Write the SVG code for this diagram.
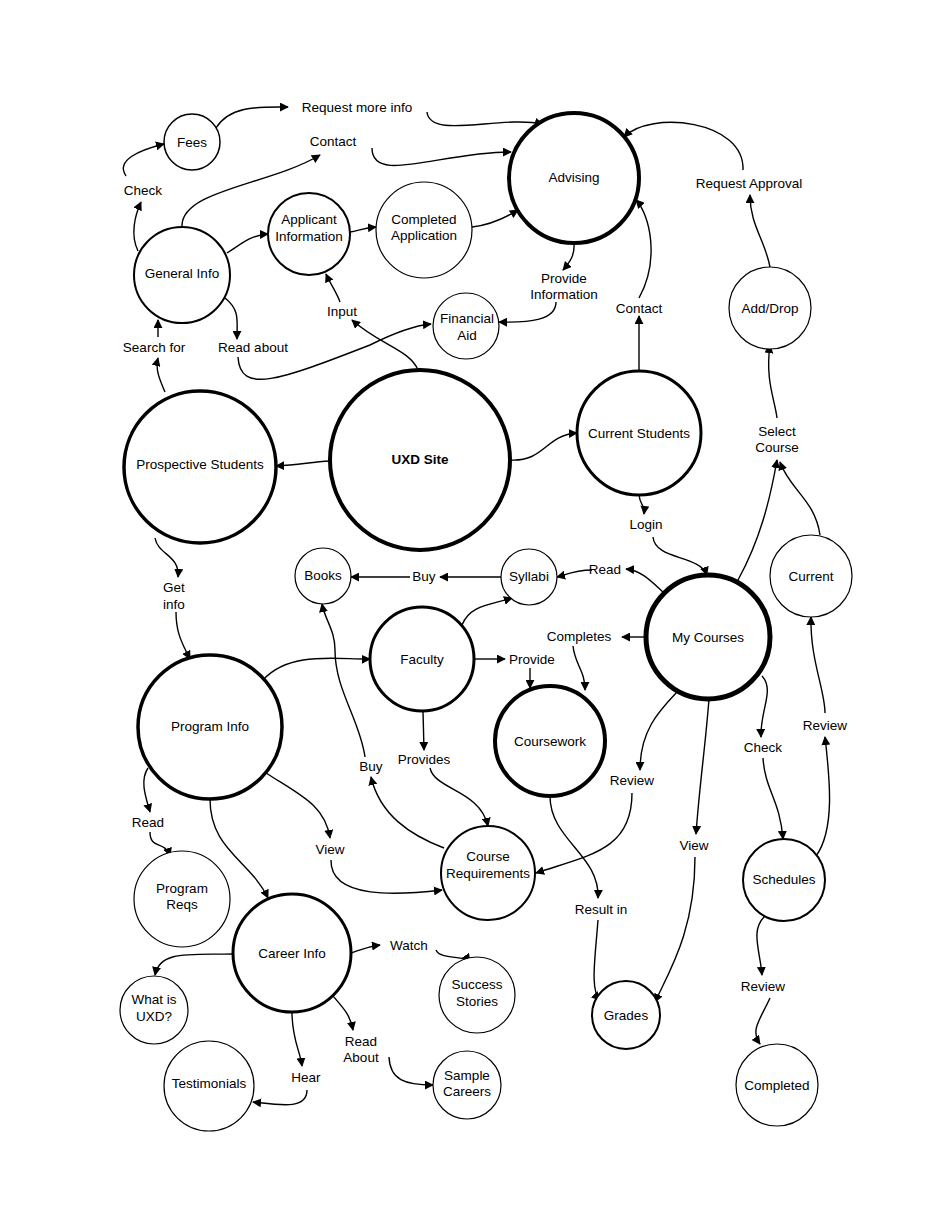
<svg xmlns="http://www.w3.org/2000/svg" width="935" height="1210" viewBox="0 0 935 1210">
<style>
.n{fill:#fff;stroke:#000}
.t{font-family:"Liberation Sans",Arial,sans-serif;font-size:13.5px;text-anchor:middle;fill:#000}
.b{font-weight:bold}
#edges path{fill:none;stroke:#000;stroke-width:1.4;marker-end:url(#a)}
</style>
<defs><marker id="a" viewBox="0 0 10 10" refX="9" refY="5" markerWidth="9" markerHeight="9" markerUnits="userSpaceOnUse" orient="auto"><path d="M0,0 L10,5 L0,10 z" fill="#000"/></marker></defs>
<rect width="935" height="1210" fill="#fff"/>
<g id="edges">
<path d="M216,128 C230,105 260,107 288,107"/>
<path d="M427,112 C430,140 500,115 543,124"/>
<path d="M126,176 C115,160 140,150 164,144"/>
<path d="M138,251 C130,235 135,215 141,202"/>
<path d="M182,227 C180,190 270,185 320,155"/>
<path d="M372,148 C372,185 440,152 511,152"/>
<path d="M227,253 C240,245 250,235 268,234"/>
<path d="M350,232 C360,230 365,228 376,227"/>
<path d="M472,227 C490,225 505,218 518,210"/>
<path d="M574,243 C575,255 570,262 563,270"/>
<path d="M556,302 C556,320 530,323 499,322"/>
<path d="M639,371 L639,316"/>
<path d="M639,298 C660,260 650,215 636,200"/>
<path d="M743,170 C745,120 650,110 624,137"/>
<path d="M770,267 C765,240 750,225 750,195"/>
<path d="M777,418 C775,400 765,380 770,345"/>
<path d="M738,580 C760,540 770,500 777,460"/>
<path d="M820,535 C815,500 790,490 780,462"/>
<path d="M165,392 C160,380 155,370 158,358"/>
<path d="M158,337 C158,330 158,330 158,320"/>
<path d="M225,298 C240,310 237,320 237,339"/>
<path d="M238,357 C240,395 280,380 370,345 C400,330 420,325 431,324"/>
<path d="M418,370 C410,350 380,345 352,320"/>
<path d="M340,302 C338,295 330,283 326,274"/>
<path d="M330,461 C310,462 300,465 276,466"/>
<path d="M510,460 C545,462 545,435 577,433"/>
<path d="M639,495 C640,505 645,505 644,514"/>
<path d="M653,537 C655,560 700,555 707,575"/>
<path d="M663,592 C650,580 640,570 626,569"/>
<path d="M592,570 C575,570 565,575 557,577"/>
<path d="M501,577 L440,577"/>
<path d="M410,577 L351,577"/>
<path d="M646,637 L622,637"/>
<path d="M573,646 C575,665 585,670 585,690"/>
<path d="M462,625 C470,605 490,605 512,598"/>
<path d="M474,659 L505,659"/>
<path d="M530,668 L530,688"/>
<path d="M155,538 C158,555 180,555 178,577"/>
<path d="M176,612 C176,630 180,640 190,659"/>
<path d="M263,680 C290,650 340,660 370,659"/>
<path d="M423,711 L424,750"/>
<path d="M430,768 C435,790 480,790 488,826"/>
<path d="M444,848 C410,835 380,815 371,777"/>
<path d="M365,757 C360,720 335,690 335,650 C335,630 325,620 322,604"/>
<path d="M677,692 C660,710 640,730 640,770"/>
<path d="M632,793 C632,850 590,855 536,873"/>
<path d="M709,699 C705,750 700,780 696,834"/>
<path d="M695,857 C695,930 670,970 655,1002"/>
<path d="M550,796 C550,840 600,855 598,898"/>
<path d="M598,920 C595,960 590,990 600,1000"/>
<path d="M762,676 C775,690 760,710 761,737"/>
<path d="M763,758 C765,790 780,800 783,839"/>
<path d="M816,856 C835,830 830,780 825,737"/>
<path d="M825,713 C825,690 810,660 811,617"/>
<path d="M765,916 C750,930 760,950 762,975"/>
<path d="M770,998 C760,1020 750,1030 760,1044"/>
<path d="M148,768 C140,780 145,795 150,812"/>
<path d="M150,832 C150,850 165,840 170,856"/>
<path d="M266,773 C300,795 325,805 330,838"/>
<path d="M331,860 C330,900 400,895 442,890"/>
<path d="M210,799 C210,850 250,860 268,898"/>
<path d="M233,954 C190,955 160,950 155,975"/>
<path d="M351,953 C360,950 365,947 380,945"/>
<path d="M436,950 C440,960 465,955 470,962"/>
<path d="M333,996 C345,1010 350,1015 353,1030"/>
<path d="M389,1057 C390,1080 405,1085 433,1085"/>
<path d="M292,1012 C292,1040 300,1050 302,1066"/>
<path d="M307,1090 C307,1110 280,1105 253,1102"/>
</g>
<g id="labels">
<text class="t" x="357" y="112">Request more info</text>
<text class="t" x="333" y="146">Contact</text>
<text class="t" x="143" y="195">Check</text>
<text class="t" x="154" y="352">Search for</text>
<text class="t" x="253" y="352">Read about</text>
<text class="t" x="342" y="316">Input</text>
<text class="t" x="564" y="283">Provide</text>
<text class="t" x="564" y="299">Information</text>
<text class="t" x="639" y="313">Contact</text>
<text class="t" x="749" y="188">Request Approval</text>
<text class="t" x="777" y="436">Select</text>
<text class="t" x="777" y="452">Course</text>
<text class="t" x="646" y="529">Login</text>
<text class="t" x="605" y="574">Read</text>
<text class="t" x="424" y="581">Buy</text>
<text class="t" x="579" y="641">Completes</text>
<text class="t" x="532" y="664">Provide</text>
<text class="t" x="174" y="592">Get</text>
<text class="t" x="174" y="609">info</text>
<text class="t" x="371" y="771">Buy</text>
<text class="t" x="424" y="764">Provides</text>
<text class="t" x="632" y="785">Review</text>
<text class="t" x="763" y="752">Check</text>
<text class="t" x="825" y="730">Review</text>
<text class="t" x="148" y="827">Read</text>
<text class="t" x="330" y="854">View</text>
<text class="t" x="694" y="850">View</text>
<text class="t" x="601" y="914">Result in</text>
<text class="t" x="409" y="950">Watch</text>
<text class="t" x="763" y="991">Review</text>
<text class="t" x="361" y="1046">Read</text>
<text class="t" x="361" y="1062">About</text>
<text class="t" x="306" y="1082">Hear</text>
</g>
<g id="fees"><circle class="n" cx="192" cy="142" r="28" stroke-width="1.5"/><text class="t" x="192" y="147">Fees</text></g>
<g id="advising"><circle class="n" cx="574" cy="178" r="65" stroke-width="4"/><text class="t" x="574" y="182">Advising</text></g>
<g id="general"><circle class="n" cx="182" cy="275" r="48" stroke-width="2"/><text class="t" x="182" y="278">General Info</text></g>
<g id="applicant"><circle class="n" cx="309" cy="234" r="41" stroke-width="2"/><text class="t" x="309" y="224">Applicant</text><text class="t" x="309" y="241">Information</text></g>
<g id="completedapp"><circle class="n" cx="424" cy="230" r="48" stroke-width="1.2"/><text class="t" x="424" y="224">Completed</text><text class="t" x="424" y="240">Application</text></g>
<g id="finaid"><circle class="n" cx="466" cy="326" r="33" stroke-width="1.2"/><text class="t" x="467" y="323">Financial</text><text class="t" x="467" y="340">Aid</text></g>
<g id="adddrop"><circle class="n" cx="770" cy="308" r="41" stroke-width="1.2"/><text class="t" x="770" y="313">Add/Drop</text></g>
<g id="uxd"><circle class="n" cx="420" cy="460" r="90" stroke-width="4"/><text class="t b" x="420" y="464">UXD Site</text></g>
<g id="prospective"><circle class="n" cx="200" cy="467" r="76" stroke-width="3.5"/><text class="t" x="200" y="469">Prospective Students</text></g>
<g id="currentstudents"><circle class="n" cx="639" cy="433" r="62" stroke-width="3"/><text class="t" x="639" y="438">Current Students</text></g>
<g id="books"><circle class="n" cx="323" cy="576" r="28" stroke-width="1.2"/><text class="t" x="323" y="580">Books</text></g>
<g id="syllabi"><circle class="n" cx="529" cy="577" r="28" stroke-width="1.2"/><text class="t" x="529" y="581">Syllabi</text></g>
<g id="faculty"><circle class="n" cx="422" cy="659" r="52" stroke-width="3"/><text class="t" x="422" y="664">Faculty</text></g>
<g id="mycourses"><circle class="n" cx="708" cy="637" r="62" stroke-width="5"/><text class="t" x="708" y="642">My Courses</text></g>
<g id="current"><circle class="n" cx="811" cy="576" r="41" stroke-width="1.2"/><text class="t" x="811" y="581">Current</text></g>
<g id="coursework"><circle class="n" cx="550" cy="741" r="55" stroke-width="4"/><text class="t" x="550" y="746">Coursework</text></g>
<g id="programinfo"><circle class="n" cx="210" cy="727" r="72" stroke-width="3.5"/><text class="t" x="210" y="731">Program Info</text></g>
<g id="coursereq"><circle class="n" cx="488" cy="873" r="47" stroke-width="2"/><text class="t" x="488" y="861">Course</text><text class="t" x="488" y="878">Requirements</text></g>
<g id="programreqs"><circle class="n" cx="182" cy="899" r="48" stroke-width="1.2"/><text class="t" x="182" y="893">Program</text><text class="t" x="182" y="909">Reqs</text></g>
<g id="schedules"><circle class="n" cx="784" cy="880" r="41" stroke-width="2"/><text class="t" x="784" y="884">Schedules</text></g>
<g id="careerinfo"><circle class="n" cx="292" cy="953" r="59" stroke-width="3"/><text class="t" x="292" y="958">Career Info</text></g>
<g id="success"><circle class="n" cx="477" cy="995" r="38" stroke-width="1.2"/><text class="t" x="477" y="989">Success</text><text class="t" x="477" y="1006">Stories</text></g>
<g id="whatis"><circle class="n" cx="154" cy="1010" r="34" stroke-width="1.2"/><text class="t" x="154" y="1004">What is</text><text class="t" x="154" y="1021">UXD?</text></g>
<g id="grades"><circle class="n" cx="626" cy="1015" r="34" stroke-width="2"/><text class="t" x="626" y="1020">Grades</text></g>
<g id="testimonials"><circle class="n" cx="209" cy="1086" r="45" stroke-width="1.2"/><text class="t" x="209" y="1088">Testimonials</text></g>
<g id="samplecareers"><circle class="n" cx="467" cy="1085" r="34" stroke-width="1.2"/><text class="t" x="467" y="1080">Sample</text><text class="t" x="467" y="1096">Careers</text></g>
<g id="completed"><circle class="n" cx="777" cy="1085" r="41" stroke-width="1.2"/><text class="t" x="777" y="1090">Completed</text></g>
</svg>
